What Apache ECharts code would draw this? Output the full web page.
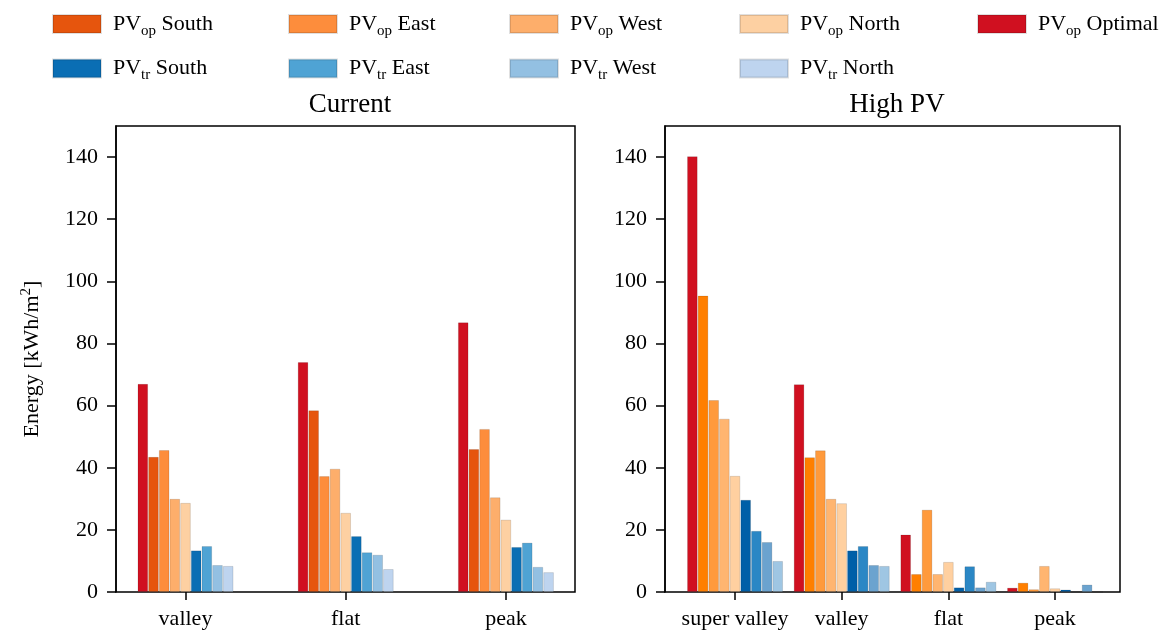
<!DOCTYPE html>
<html>
<head>
<meta charset="utf-8">
<script src="https://cdn.jsdelivr.net/npm/echarts@6/dist/echarts.min.js"></script>
<style>
    html, body { margin: 0; padding: 0; background: #fff; }
    #chart { width: 1164px; height: 635px; }
</style>
</head>
<body>
<div id="chart"></div>
<script>
// data
var seriesNames = ['PV_op Optimal', 'PV_op South', 'PV_op East', 'PV_op West', 'PV_op North',
    'PV_tr South', 'PV_tr East', 'PV_tr West', 'PV_tr North']
var catCurrent = ['valley', 'flat', 'peak']
var catHigh = ['super valley', 'valley', 'flat', 'peak']
var yTicks = [0, 20, 40, 60, 80, 100, 120, 140]

// one array per series, same order as seriesNames
var currentOptimal = [67.0, 74.0, 86.8]
var currentOpSouth = [43.5, 58.5, 46.0]
var currentOpEast = [45.7, 37.3, 52.5]
var currentOpWest = [30.0, 39.7, 30.5]
var currentOpNorth = [28.7, 25.5, 23.3]
var currentTrSouth = [13.4, 18.0, 14.5]
var currentTrEast = [14.8, 12.8, 15.9]
var currentTrWest = [8.7, 12.0, 8.1]
var currentTrNorth = [8.4, 7.4, 6.4]

var highOptimal = [140.3, 66.9, 18.5, 1.4]
var highOpSouth = [95.4, 43.4, 5.8, 3.0]
var highOpEast = [61.8, 45.6, 26.5, 0.9]
var highOpWest = [55.8, 30.0, 5.8, 8.4]
var highOpNorth = [37.4, 28.6, 9.7, 1.2]
var highTrSouth = [29.7, 13.4, 1.5, 0.8]
var highTrEast = [19.7, 14.8, 8.3, 0]
var highTrWest = [16.1, 8.7, 1.5, 2.4]
var highTrNorth = [10.0, 8.4, 3.3, 0]

var currentData = [currentOptimal, currentOpSouth, currentOpEast, currentOpWest, currentOpNorth,
    currentTrSouth, currentTrEast, currentTrWest, currentTrNorth]
var highData = [highOptimal, highOpSouth, highOpEast, highOpWest, highOpNorth,
    highTrSouth, highTrEast, highTrWest, highTrNorth]

var coloursCurrent = ['#d01020', '#e6550d', '#fd8d3c', '#fdae6b', '#fdd0a2',
    '#0a6eb4', '#4fa3d4', '#93c0e2', '#bed4ef']
var coloursHigh = ['#d01020', '#ff7f00', '#ff9a3c', '#ffb570', '#ffd0a0',
    '#005fa8', '#2b87c5', '#6ba3cf', '#9fc6e3']

var font = 'Liberation Serif'
var chart = echarts.init(document.getElementById('chart'))

function frameY(withName) {
    var ax = {
        type: 'value',
        gridIndex: 0,
        min: 0,
        max: 150,
        axisLine: {show: true, lineStyle: {color: '#000', width: 1.5}},
        axisTick: {show: true, length: 9, customValues: yTicks, lineStyle: {color: '#000', width: 1.5}},
        axisLabel: {customValues: yTicks, margin: 18, color: '#000', fontFamily: font, fontSize: 22},
        splitLine: {show: false}
    }
    if (withName) {
        ax.name = '{n|Energy [kWh/m}{sup|2}{n|]}'
        ax.nameLocation = 'middle'
        ax.nameGap = 70
        ax.nameTextStyle = {
            rich: {
                n: {fontFamily: font, fontSize: 22, color: '#000'},
                sup: {fontFamily: font, fontSize: 15, color: '#000', padding: [0, 0, 12, 0]}
            }
        }
    }
    return ax
}

function barX(cats, gridIndex) {
    return {
        type: 'category',
        gridIndex: gridIndex,
        data: cats,
        axisLine: {show: false},
        axisTick: {show: true, alignWithLabel: true, length: 8, lineStyle: {color: '#000', width: 1.5}},
        axisLabel: {interval: 0, margin: 16, color: '#000', fontFamily: font, fontSize: 22}
    }
}

function barY(gridIndex) {
    return {type: 'value', gridIndex: gridIndex, min: 0, max: 150, show: false}
}

var series = []
seriesNames.forEach(function (name, i) {
    series.push({
        name: name, type: 'bar', xAxisIndex: 1, yAxisIndex: 1,
        barWidth: 10.67, barGap: '0%',
        itemStyle: {color: coloursCurrent[i], borderColor: 'rgba(0,0,0,0.12)', borderWidth: 1},
        data: currentData[i]
    })
})
seriesNames.forEach(function (name, i) {
    series.push({
        name: name, type: 'bar', xAxisIndex: 3, yAxisIndex: 3,
        barWidth: 10.67, barGap: '0%',
        itemStyle: {color: coloursHigh[i], borderColor: 'rgba(0,0,0,0.12)', borderWidth: 1},
        data: highData[i]
    })
})

// legend laid out as 5 columns of 2 rows
var legendCols = [
    ['PV_op South', 'PV_tr South'],
    ['PV_op East', 'PV_tr East'],
    ['PV_op West', 'PV_tr West'],
    ['PV_op North', 'PV_tr North'],
    ['PV_op Optimal']
]
var legendLeft = [47, 283, 504, 734, 972]
var legends = legendCols.map(function (names, i) {
    return {
        data: names,
        orient: 'vertical',
        left: legendLeft[i],
        top: 8,
        itemWidth: 48,
        itemHeight: 18,
        itemGap: 19,
        icon: 'rect',
        selectedMode: false,
        formatter: function (name) {
            var m = name.match(/^PV_(\w+) (.*)$/)
            return '{a|PV}{s|' + m[1] + '}{a| ' + m[2] + '}'
        },
        textStyle: {
            padding: [0, 0, 0, 7],
            rich: {
                a: {fontFamily: font, fontSize: 22, color: '#000'},
                s: {fontFamily: font, fontSize: 15, color: '#000', padding: [14, 0, 0, 0]}
            }
        }
    }
})

chart.setOption({
    animation: false,
    title: [
        {text: 'Current', left: 345, top: 86, textAlign: 'center',
            textStyle: {fontFamily: font, fontSize: 27, fontWeight: 'normal', color: '#000'}},
        {text: 'High PV', left: 892, top: 86, textAlign: 'center',
            textStyle: {fontFamily: font, fontSize: 27, fontWeight: 'normal', color: '#000'}}
    ],
    legend: legends,
    grid: [
        {left: 116, top: 126, width: 459, height: 466, show: true, borderColor: '#000', borderWidth: 1.5},
        {left: 105.4, top: 126, width: 480.6, height: 466},
        {left: 665, top: 126, width: 455, height: 466, show: true, borderColor: '#000', borderWidth: 1.5},
        {left: 681.7, top: 126, width: 426.7, height: 466}
    ],
    xAxis: [
        {type: 'value', gridIndex: 0, show: false},
        barX(catCurrent, 1),
        {type: 'value', gridIndex: 2, show: false},
        barX(catHigh, 3)
    ],
    yAxis: [
        frameY(true),
        barY(1),
        Object.assign(frameY(false), {gridIndex: 2}),
        barY(3)
    ],
    series: series
})
</script>
</body>
</html>
